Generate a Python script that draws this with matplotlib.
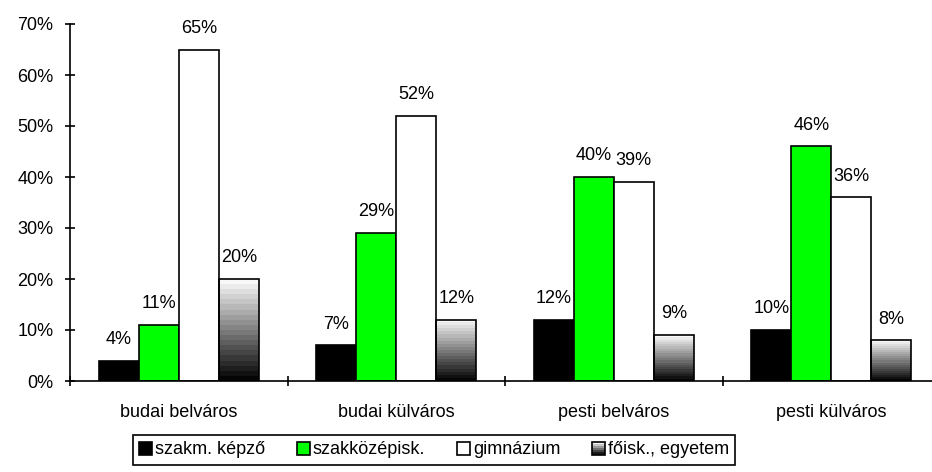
""" Iskolai végzettség kerületenként - oszlopdiagram """

import matplotlib
matplotlib.use("Agg")
import matplotlib.pyplot as plt, numpy as np
from matplotlib.patches import Rectangle, Patch
from matplotlib.legend_handler import HandlerBase

plt.rcParams['font.family'] = ['Liberation Sans', 'DejaVu Sans']

groups = ["budai belváros", "budai külváros", "pesti belváros", "pesti külváros"]
series = ["szakm. képző", "szakközépisk.", "gimnázium", "főisk., egyetem"]
szakm = [0.04, 0.07, 0.12, 0.10]
szakkoz = [0.11, 0.29, 0.40, 0.46]
gimn = [0.65, 0.52, 0.39, 0.36]
foisk = [0.20, 0.12, 0.09, 0.08]
yticks = [0, 0.1, 0.2, 0.3, 0.4, 0.5, 0.6, 0.7]

colors = ['#000000', '#00ff00', '#ffffff', None]  # None -> gradient
fs = 13


class GradHandler(HandlerBase):
	""" small gradient square for the legend """
	def create_artists(self, legend, orig_handle, xdescent, ydescent, width, height, fontsize, trans):
		arts = []
		n = 6
		for i in range(n):
			g = 0.1 + 0.85 * i / (n - 1)
			arts.append(Rectangle((-xdescent, -ydescent + i * height / n), width, height / n,
				facecolor=str(g), edgecolor='none', transform=trans))
		arts.append(Rectangle((-xdescent, -ydescent), width, height, fill=False,
			edgecolor='black', lw=1.2, transform=trans))
		return arts


fig = plt.figure(figsize=(9.32, 4.72), dpi=100)
ax = fig.add_axes([70 / 932, 91 / 472, 870 / 932, 357 / 472])

x = np.arange(len(groups))
w = 40 / 217.5
grad = np.linspace(0.97, 0.02, 20)[:, None]

handles = []
for k, vals in enumerate([szakm, szakkoz, gimn, foisk]):
	pos = x + (k - 1.5) * w
	if colors[k] is None:
		for p, v in zip(pos, vals):
			ax.imshow(grad, extent=[p - w / 2, p + w / 2, 0, v], aspect='auto', cmap='gray',
				vmin=0, vmax=1, interpolation='nearest', origin='upper', zorder=1)
		ax.bar(pos, vals, w, facecolor='none', edgecolor='black', lw=1.2, zorder=2)
		handles.append(Patch(facecolor='gray', edgecolor='black'))
	else:
		ax.bar(pos, vals, w, facecolor=colors[k], edgecolor='black', lw=1.2, zorder=2)
		handles.append(Patch(facecolor=colors[k], edgecolor='black', lw=1.2))
	for p, v in zip(pos, vals):
		ax.annotate("{:.0f}%".format(v * 100), (p, v), xytext=(0, 12), textcoords='offset points',
			ha='center', va='baseline', fontsize=fs)

ax.set_xlim(-0.5, len(groups) - 0.5)
ax.set_ylim(0, 0.7)

# spines
for s in ['top', 'right']:
	ax.spines[s].set_visible(False)
ax.spines['left'].set_linewidth(1.2)
ax.spines['bottom'].set_linewidth(1.2)

ax.set_yticks(yticks)
ax.set_yticklabels(["{:.0f}%".format(t * 100) for t in yticks])
ax.tick_params(axis='y', direction='inout', length=7, width=1.2, pad=8.5, labelsize=fs)

# separators as major ticks, group names as minor ticks
ax.set_xticks(np.arange(len(groups) + 1) - 0.5)
ax.set_xticklabels([])
ax.set_xticks(x, minor=True)
ax.set_xticklabels(groups, minor=True)
ax.tick_params(axis='x', which='major', direction='inout', length=7, width=1.2)
ax.tick_params(axis='x', which='minor', length=0, pad=16.5, labelsize=fs)

leg = fig.legend(handles, series, loc='center', bbox_to_anchor=(434 / 932, 22 / 472), ncol=4,
	fontsize=fs, handlelength=0.72, handleheight=0.72, handletextpad=0.17, columnspacing=1.75,
	fancybox=False, shadow=False, edgecolor='black', framealpha=1,
	handler_map={handles[3]: GradHandler()}, borderpad=0.35)
leg.get_frame().set_linewidth(1.2)

plt.savefig('out.png', dpi=100)
